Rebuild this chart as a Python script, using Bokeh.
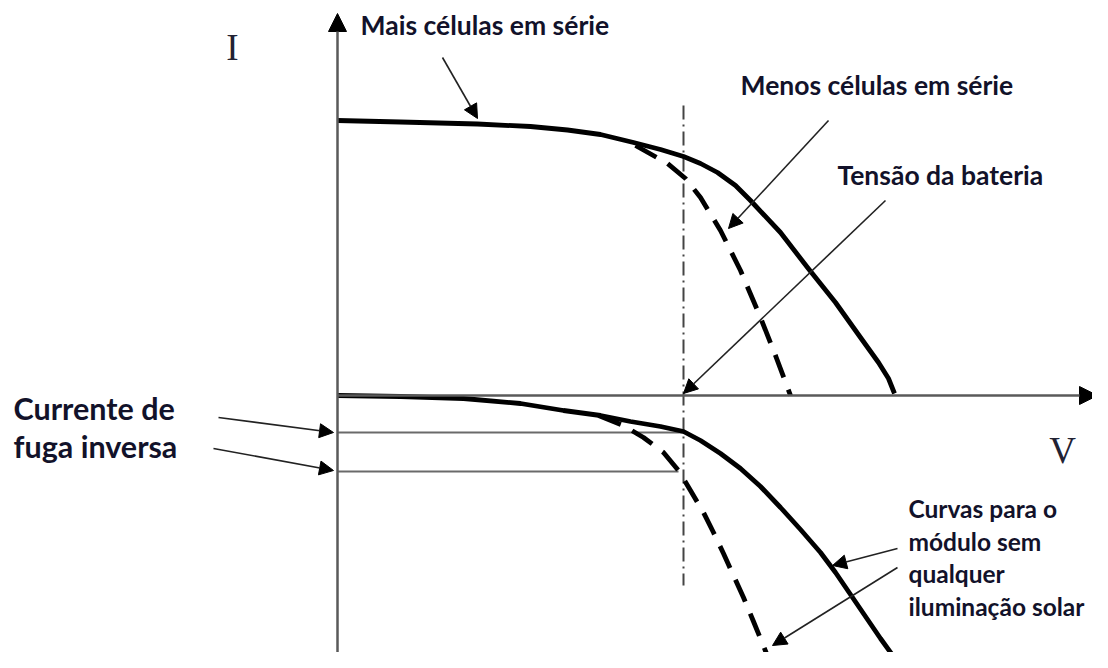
from bokeh.plotting import figure
from bokeh.models import Range1d, Arrow, NormalHead, ColumnDataSource
from bokeh.core.properties import value
from bokeh.embed import file_html
from bokeh.resources import INLINE

# ---------------- data (V, I in arbitrary schematic units) ----------------
# upper solid: more cells in series (illuminated)
mais_v = [0.00, 0.63, 1.40, 1.93, 2.30, 2.63, 2.96, 3.23, 3.46, 3.63, 3.80, 3.98,
          4.13, 4.43, 4.70, 4.98, 5.23, 5.41, 5.51, 5.57]
mais_i = [2.75, 2.735, 2.715, 2.69, 2.655, 2.61, 2.53, 2.46, 2.39, 2.32, 2.23, 2.10,
          1.95, 1.63, 1.28, 0.93, 0.58, 0.33, 0.17, 0.02]
# upper dashed: fewer cells in series
menos_v = [2.98, 3.30, 3.48, 3.63, 3.83, 4.03, 4.23, 4.38, 4.53]
menos_i = [2.50, 2.32, 2.17, 1.98, 1.65, 1.25, 0.78, 0.40, 0.00]
# lower solid: module without illumination (more cells)
escuro_mais_v = [0.00, 0.63, 1.26, 1.83, 2.26, 2.63, 2.93, 3.23, 3.46, 3.63, 3.83, 4.03,
                 4.23, 4.43, 4.63, 4.83, 4.98, 5.13, 5.28, 5.43, 5.56, 5.63]
escuro_mais_i = [0.00, -0.01, -0.03, -0.08, -0.15, -0.20, -0.26, -0.31, -0.36, -0.45, -0.58, -0.73,
                 -0.91, -1.12, -1.34, -1.57, -1.77, -1.99, -2.21, -2.43, -2.61, -2.73]
# lower dashed: module without illumination (fewer cells)
escuro_menos_v = [2.61, 2.86, 3.06, 3.26, 3.41, 3.53, 3.66, 3.76, 3.86, 3.96, 4.06, 4.16, 4.25, 4.35]
escuro_menos_i = [-0.20, -0.30, -0.42, -0.57, -0.75, -0.95, -1.17, -1.37, -1.58, -1.80, -2.02, -2.26, -2.48, -2.73]

v_bateria = 3.46                 # battery voltage
bateria_i = [2.90, -1.90]        # extent of the dash-dot line
fuga_i = [-0.37, -0.76]          # reverse leakage currents
fuga_v_end = [3.46, 3.41]

eixo_v_max = 7.60
eixo_i_min, eixo_i_max = -2.80, 3.82

# annotation arrows: (x_start, y_start, x_end, y_end)
setas_x0 = [1.05, 4.91, 5.48, -1.19, -1.24, 5.60, 5.60]
setas_y0 = [3.38, 2.75, 1.95, -0.22, -0.53, -1.53, -1.72]
setas_x1 = [1.40, 3.91, 3.46, -0.04, -0.04, 4.95, 4.35]
setas_y1 = [2.77, 1.67, 0.02, -0.37, -0.75, -1.70, -2.50]

rotulos = ["Mais células em série", "Menos células em série", "Tensão da bateria"]
rotulos_x = [0.23, 4.03, 5.00]
rotulos_y = [3.71, 3.11, 2.21]

rotulos_curvas = ["Curvas para o", "módulo sem", "qualquer", "iluminação solar"]
rotulos_curvas_x = [5.71, 5.71, 5.71, 5.71]
rotulos_curvas_y = [-1.13, -1.46, -1.78, -2.11]

rotulos_fuga = ["Currente de", "fuga inversa"]
rotulos_fuga_x = [-3.24, -3.24]
rotulos_fuga_y = [-0.12, -0.50]

eixos_txt = ["I", "V"]
eixos_txt_x = [-1.05, 7.25]
eixos_txt_y = [3.48, -0.55]

# ---------------- figure ----------------
p = figure(width=1092, height=652, output_backend="svg", toolbar_location=None,
           x_range=Range1d(-3.37, 7.55), y_range=Range1d(-2.57, 3.95),
           x_axis_location=None, y_axis_location=None, min_border=0,
           background_fill_color="white", border_fill_color="white")
p.outline_line_color = None
p.grid.visible = False

axis_col = "#5a5a5a"
# axes with arrow heads
p.add_layout(Arrow(end=NormalHead(size=18, fill_color="black", line_color="black"),
                   x_start=0, y_start=0, x_end=eixo_v_max, y_end=0,
                   line_color=axis_col, line_width=2.5))
p.add_layout(Arrow(end=NormalHead(size=18, fill_color="black", line_color="black"),
                   x_start=0, y_start=eixo_i_min, x_end=0, y_end=eixo_i_max,
                   line_color=axis_col, line_width=2.5))

# battery voltage dash-dot line
p.line([v_bateria, v_bateria], bateria_i, line_color="#444444", line_width=2,
       line_dash="14 5 2 5")

# leakage current lines
for fi, fv in zip(fuga_i, fuga_v_end):
    p.line([0, fv], [fi, fi], line_color="#6a6a6a", line_width=2)

# curves
p.line(mais_v, mais_i, line_color="black", line_width=4.8, line_join="round")
p.line(menos_v, menos_i, line_color="black", line_width=4.8, line_dash="24 13")
p.line(escuro_mais_v, escuro_mais_i, line_color="black", line_width=4.8, line_join="round")
p.line(escuro_menos_v, escuro_menos_i, line_color="black", line_width=4.8, line_dash="24 13")

# annotation arrows
for x0, y0, x1, y1 in zip(setas_x0, setas_y0, setas_x1, setas_y1):
    p.add_layout(Arrow(end=NormalHead(size=14, fill_color="black", line_color="black"),
                       x_start=x0, y_start=y0, x_end=x1, y_end=y1,
                       line_color="#222222", line_width=1.6))

# labels
src = ColumnDataSource(dict(x=rotulos_x, y=rotulos_y, t=rotulos))
p.text(x="x", y="y", text="t", source=src, text_font=value("Lato"),
       text_font_style="bold", text_font_size="26.5px", text_color="#12122a",
       text_align="left", text_baseline="middle")

src_c = ColumnDataSource(dict(x=rotulos_curvas_x, y=rotulos_curvas_y, t=rotulos_curvas))
p.text(x="x", y="y", text="t", source=src_c, text_font=value("Lato"),
       text_font_style="bold", text_font_size="24.5px", text_color="#12122a",
       text_align="left", text_baseline="middle")

src_f = ColumnDataSource(dict(x=rotulos_fuga_x, y=rotulos_fuga_y, t=rotulos_fuga))
p.text(x="x", y="y", text="t", source=src_f, text_font=value("Lato"),
       text_font_style="bold", text_font_size="30.5px", text_color="#12122a",
       text_align="left", text_baseline="middle")

src2 = ColumnDataSource(dict(x=eixos_txt_x, y=eixos_txt_y, t=eixos_txt))
p.text(x="x", y="y", text="t", source=src2, text_font=value("Liberation Serif"),
       text_font_size="37px", text_color="#222233",
       text_align="center", text_baseline="middle")

open("out.html", "w").write(file_html(p, INLINE))
